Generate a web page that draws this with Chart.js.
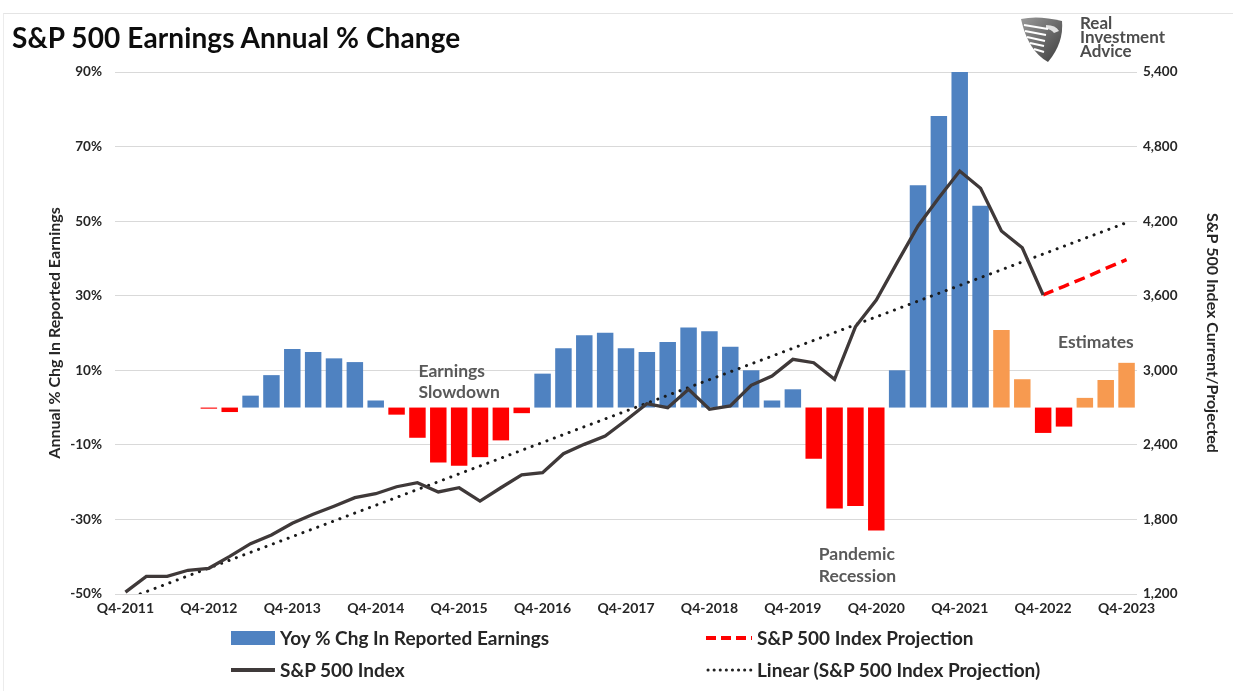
<!DOCTYPE html>
<html>
<head>
<meta charset="utf-8">
<script src="https://cdn.jsdelivr.net/npm/chart.js@4.4.1/dist/chart.umd.min.js"></script>
<style>
  html, body { margin: 0; padding: 0; background: #ffffff; }
  #wrap { position: relative; width: 1233px; height: 691px; overflow: hidden; background: #fff; font-family: Lato, "Open Sans", sans-serif; }
  #frame { position: absolute; left: 3px; top: 13px; width: 1240px; height: 700px; border-top: 1px solid #e4e4e4; border-left: 1px solid #ececec; }
  #c { position: absolute; left: 0; top: 0; }
  #title { position: absolute; left: 12px; top: 20px; font: 700 28px Lato, sans-serif; color: #0d0d0d; white-space: nowrap; letter-spacing: 0.1px; }
  #logoText { position: absolute; left: 1080px; top: 16px; font: 700 17px/14px Lato, sans-serif; color: #4d4d4d; }
  #logoIcon { position: absolute; left: 1018px; top: 15px; }
  .lg { position: absolute; font: 700 19px Lato, sans-serif; color: #262626; white-space: nowrap; line-height: 22px; }
  .sw { position: absolute; }
</style>
</head>
<body>
<div id="wrap">
  <div id="frame"></div>
  <canvas id="c" width="1233" height="691"></canvas>
  <div id="title">S&amp;P 500 Earnings Annual % Change</div>
  <svg id="logoIcon" width="50" height="50" viewBox="0 0 50 50">
    <defs>
      <linearGradient id="g1" x1="0" y1="0" x2="1" y2="1">
        <stop offset="0" stop-color="#9a9a9a"/>
        <stop offset="1" stop-color="#3d3d3d"/>
      </linearGradient>
    </defs>
    <path d="M3 4 Q20 0 44 6 Q46 28 30 47 Q10 36 3 4 Z" fill="url(#g1)"/>
    <path d="M6 10 L30 14 M7 16 L28 20 M9 22 L27 26 M12 28 L26 31 M16 34 L26 37" stroke="#ffffff" stroke-width="2.2" fill="none"/>
    <path d="M28 10 Q38 10 41 16 L36 18 Q33 14 28 14 Z" fill="#ffffff" opacity="0.8"/>
  </svg>
  <div id="logoText">Real<br>Investment<br>Advice</div>

  <div class="sw" style="left:231px;top:631px;width:44px;height:14px;background:#4f82c1;"></div>
  <div class="lg" style="left:280px;top:627px;">Yoy % Chg In Reported Earnings</div>
  <svg class="sw" style="left:704px;top:630px;" width="50" height="16"><line x1="2" y1="8" x2="48" y2="8" stroke="#ff0000" stroke-width="4" stroke-dasharray="10,5"/></svg>
  <div class="lg" style="left:757px;top:627px;">S&amp;P 500 Index Projection</div>

  <div class="sw" style="left:231px;top:668px;width:44px;height:4px;background:#3f3a3a;"></div>
  <div class="lg" style="left:280px;top:659px;">S&amp;P 500 Index</div>
  <svg class="sw" style="left:704px;top:662px;" width="50" height="16"><line x1="4" y1="8" x2="48" y2="8" stroke="#222" stroke-width="3" stroke-linecap="round" stroke-dasharray="0.1,6"/></svg>
  <div class="lg" style="left:757px;top:659px;">Linear (S&amp;P 500 Index Projection)</div>
</div>
<script>
// ---------- data ----------
const quarters = [
  'Q4-2011',
  'Q1-2012','Q2-2012','Q3-2012','Q4-2012',
  'Q1-2013','Q2-2013','Q3-2013','Q4-2013',
  'Q1-2014','Q2-2014','Q3-2014','Q4-2014',
  'Q1-2015','Q2-2015','Q3-2015','Q4-2015',
  'Q1-2016','Q2-2016','Q3-2016','Q4-2016',
  'Q1-2017','Q2-2017','Q3-2017','Q4-2017',
  'Q1-2018','Q2-2018','Q3-2018','Q4-2018',
  'Q1-2019','Q2-2019','Q3-2019','Q4-2019',
  'Q1-2020','Q2-2020','Q3-2020','Q4-2020',
  'Q1-2021','Q2-2021','Q3-2021','Q4-2021',
  'Q1-2022','Q2-2022','Q3-2022','Q4-2022',
  'Q1-2023','Q2-2023','Q3-2023','Q4-2023'
];

// Yoy % change in reported earnings (null = no bar)
const earningsYoY = [
  null,
  null, null, null, -0.3,
  -1.2, 3.2, 8.7, 15.7,
  14.9, 13.2, 12.2, 1.9,
  -1.9, -8.1, -14.7, -15.6,
  -13.3, -8.8, -1.5, 9.1,
  15.9, 19.4, 20.1, 15.9,
  14.9, 17.6, 21.5, 20.5,
  16.3, 10.0, 1.9, 4.9,
  -13.7, -27.1, -26.4, -33.0,
  10.0, 59.6, 78.2, 90.0,
  54.1, 20.8, 7.6, -6.8,
  -5.1, 2.6, 7.4, 12.0
];
// index of first quarter that is an estimate
const firstEstimateIndex = 42;

// S&P 500 index (actual)
const spxIndex = [
  1215,
  1342, 1342, 1391, 1407,
  1503, 1605, 1675, 1769,
  1841, 1906, 1975, 2007,
  2063, 2096, 2021, 2055,
  1948, 2055, 2158, 2176,
  2329, 2404, 2471, 2598,
  2731, 2699, 2847, 2686,
  2713, 2879, 2954, 3088,
  3061, 2927, 3350, 3565,
  3866, 4161, 4389, 4603,
  4464, 4121, 3986, 3606
];

// S&P 500 index projection (Q4-2022 .. Q4-2023)
const projQuarters = ['Q4-2022','Q1-2023','Q2-2023','Q3-2023','Q4-2023'];
const projValues = [3606, 3676, 3745, 3820, 3890];

// Linear trend line endpoints
const trendQuarters = ['Q4-2011', 'Q4-2023'];
const trendValues = [1156, 4188];

// Axis tick settings
const leftTicks = { min: -50, max: 90, step: 20 };
const rightTicks = { min: 1200, max: 5400, step: 600 };

// ---------- styles ----------
const BLUE = '#4f82c1', RED = '#ff0000', ORANGE = '#f79a50';
const barColors = earningsYoY.map((v, i) => v === null ? BLUE : (v < 0 ? RED : (i >= firstEstimateIndex ? ORANGE : BLUE)));

const xTickFont = { family: 'Lato', weight: '700', size: 14 };
const yTickFont = { family: 'Lato', weight: '700', size: 13.5 };
const axisTitleFont = { family: 'Lato', weight: '700', size: 16 };
const txtColor = '#262626';

const notes = {
  id: 'notes',
  afterDatasetsDraw(chart) {
    const { ctx, scales: { x, y } } = chart;
    ctx.save();
    ctx.fillStyle = '#595959';
    ctx.font = '700 17.5px Lato';
    ctx.textBaseline = 'middle';
    ctx.textAlign = 'left';
    const xi = (i) => x.getPixelForValue(i);
    ctx.fillText('Earnings', xi(14) + 1, y.getPixelForValue(9.8));
    ctx.fillText('Slowdown', xi(14) + 1, y.getPixelForValue(4.0));
    ctx.fillText('Pandemic', xi(33) + 5, y.getPixelForValue(-39.5));
    ctx.fillText('Recession', xi(33) + 5, y.getPixelForValue(-45.4));
    ctx.textAlign = 'center';
    ctx.fillText('Estimates', xi(46) + 11, y.getPixelForValue(17.5));
    ctx.restore();
  }
};

new Chart(document.getElementById('c'), {
  data: {
    labels: quarters,
    datasets: [
      {
        type: 'line', label: 'S&P 500 Index', data: spxIndex, yAxisID: 'y1',
        borderColor: '#3f3939', borderWidth: 3.3, pointRadius: 0, tension: 0, order: 1
      },
      {
        type: 'line', label: 'S&P 500 Index Projection', yAxisID: 'y1',
        data: projQuarters.map((q, i) => ({ x: q, y: projValues[i] })),
        borderColor: RED, borderWidth: 3.5, borderDash: [11, 6], pointRadius: 0, tension: 0, order: 1
      },
      {
        type: 'line', label: 'Linear (S&P 500 Index Projection)', yAxisID: 'y1',
        data: trendQuarters.map((q, i) => ({ x: q, y: trendValues[i] })),
        borderColor: '#1a1a1a', borderWidth: 3, borderDash: [0.1, 7.8], borderCapStyle: 'round',
        pointRadius: 0, tension: 0, order: 2
      },
      {
        type: 'bar', label: 'Yoy % Chg In Reported Earnings', data: earningsYoY, yAxisID: 'y',
        backgroundColor: barColors, borderWidth: 0, categoryPercentage: 1, barPercentage: 0.79, order: 3
      }
    ]
  },
  options: {
    responsive: false,
    animation: false,
    events: [],
    layout: { padding: { left: 0, right: 0, top: 72, bottom: 67 } },
    plugins: { legend: { display: false }, title: { display: false }, tooltip: { enabled: false } },
    scales: {
      x: {
        type: 'category', offset: true,
        grid: { display: false, drawTicks: false }, border: { display: false },
        ticks: {
          autoSkip: false, maxRotation: 0, minRotation: 0, padding: 6,
          font: xTickFont, color: txtColor,
          callback: function (v, i) { return i % 4 === 0 ? this.getLabelForValue(v) : ''; }
        },
        afterFit: (s) => { s.height = 30; }
      },
      y: {
        position: 'left', min: leftTicks.min, max: leftTicks.max,
        ticks: { stepSize: leftTicks.step, padding: 13, font: yTickFont, color: txtColor, callback: (v) => v + '%' },
        grid: { color: '#d9d9d9', lineWidth: 1, drawTicks: false }, border: { display: false },
        title: { display: true, text: 'Annual % Chg In Reported Earnings', font: axisTitleFont, color: txtColor, padding: { top: 45, bottom: 0 } },
        afterFit: (s) => { s.width = 115; }
      },
      y1: {
        position: 'right', min: rightTicks.min, max: rightTicks.max,
        ticks: { stepSize: rightTicks.step, padding: 6, font: yTickFont, color: txtColor, callback: (v) => v.toLocaleString('en-US') },
        grid: { display: false, drawTicks: false }, border: { display: false },
        title: { display: true, text: 'S&P 500 Index Current/Projected', font: axisTitleFont, color: txtColor, padding: { top: 11, bottom: 0 } },
        afterFit: (s) => { s.width = 96; }
      }
    }
  },
  plugins: [notes]
});
</script>
</body>
</html>
